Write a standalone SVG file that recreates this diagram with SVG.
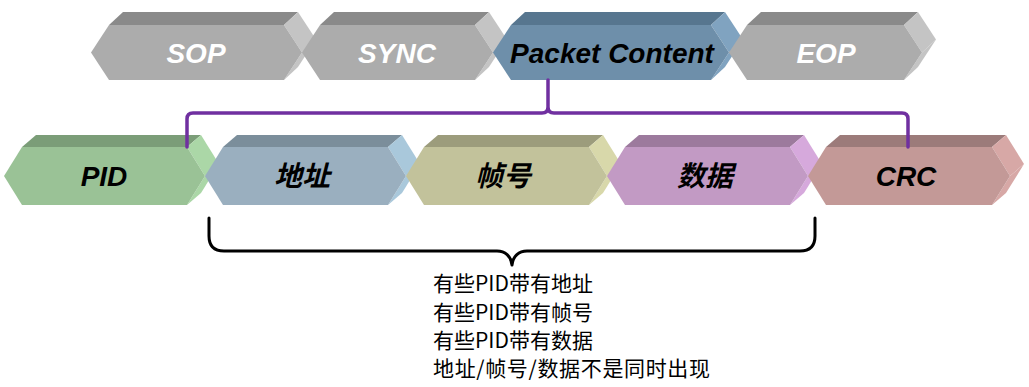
<svg xmlns="http://www.w3.org/2000/svg" width="1029" height="387" viewBox="0 0 1029 387">
<style>
.lbl{font-family:"Liberation Sans",Arial,sans-serif;font-weight:bold;font-style:italic;font-size:28px;text-anchor:middle}
.cjk{font-family:"Noto Sans CJK SC",sans-serif;font-weight:bold;font-style:italic;font-size:28px;text-anchor:middle}
.w{fill:#ffffff}
.b{fill:#000000}
.note{font-family:"Noto Sans CJK SC",sans-serif;font-size:21px;fill:#000000}
.grey .f{fill:#acacac}.grey .t{fill:#8a8a8a}.grey .s{fill:#c4c4c4}
.blue .f{fill:#6e8faa}.blue .t{fill:#57768f}.blue .s{fill:#80a3c0}
.green .f{fill:#9ac296}.green .t{fill:#7b9d78}.green .s{fill:#abd7a7}
.steel .f{fill:#9aafbf}.steel .t{fill:#7b8e9b}.steel .s{fill:#a9c8db}
.olive .f{fill:#c2c29b}.olive .t{fill:#9c9c7c}.olive .s{fill:#d8d8aa}
.mauve .f{fill:#c29ac4}.mauve .t{fill:#9c7a9d}.mauve .s{fill:#d6a9dc}
.rose .f{fill:#c39997}.rose .t{fill:#9c7b7a}.rose .s{fill:#d7a8a6}
.purple{fill:none;stroke:#7030a0;stroke-width:3.5;stroke-linecap:round;stroke-linejoin:round}
.brace{fill:none;stroke:#000000;stroke-width:3;stroke-linecap:round;stroke-linejoin:round}
</style>

<g id="node-sop" class="grey">
<polygon class="t" points="109,25 123,12 298,12 284,25"/>
<polygon class="s" points="284,25 298,12 316,39.5 302,52.5"/>
<polygon class="s" points="302,52.5 316,39.5 298,67 284,80"/>
<polygon class="f" points="91,52.5 109,25 284,25 302,52.5 284,80 109,80"/>
<text class="lbl w" x="196" y="63">SOP</text>
</g>
<g id="node-sync" class="grey">
<polygon class="t" points="320,25 334,12 489,12 475,25"/>
<polygon class="s" points="475,25 489,12 507,39.5 493,52.5"/>
<polygon class="s" points="493,52.5 507,39.5 489,67 475,80"/>
<polygon class="f" points="302,52.5 320,25 475,25 493,52.5 475,80 320,80"/>
<text class="lbl w" x="397" y="63">SYNC</text>
</g>
<g id="node-packet" class="blue">
<polygon class="t" points="511,25 525,12 725,12 711,25"/>
<polygon class="s" points="711,25 725,12 743,39.5 729,52.5"/>
<polygon class="s" points="729,52.5 743,39.5 725,67 711,80"/>
<polygon class="f" points="493,52.5 511,25 711,25 729,52.5 711,80 511,80"/>
<text class="lbl b" x="612" y="63">Packet Content</text>
</g>
<g id="node-eop" class="grey">
<polygon class="t" points="747,25 761,12 918,12 904,25"/>
<polygon class="s" points="904,25 918,12 936,39.5 922,52.5"/>
<polygon class="s" points="922,52.5 936,39.5 918,67 904,80"/>
<polygon class="f" points="729,52.5 747,25 904,25 922,52.5 904,80 747,80"/>
<text class="lbl w" x="826" y="63">EOP</text>
</g>

<g id="node-pid" class="green">
<polygon class="t" points="22,147 36,135 201,135 187,147"/>
<polygon class="s" points="187,147 201,135 219,164 205,176"/>
<polygon class="s" points="205,176 219,164 201,193 187,205"/>
<polygon class="f" points="4,176 22,147 187,147 205,176 187,205 22,205"/>
<text class="lbl b" x="104" y="186">PID</text>
</g>
<g id="node-addr" class="steel">
<polygon class="t" points="223,147 237,135 402,135 388,147"/>
<polygon class="s" points="388,147 402,135 420,164 406,176"/>
<polygon class="s" points="406,176 420,164 402,193 388,205"/>
<polygon class="f" points="205,176 223,147 388,147 406,176 388,205 223,205"/>
<text class="cjk b" x="302" y="186">地址</text>
</g>
<g id="node-frame" class="olive">
<polygon class="t" points="424,147 438,135 603,135 589,147"/>
<polygon class="s" points="589,147 603,135 621,164 607,176"/>
<polygon class="s" points="607,176 621,164 603,193 589,205"/>
<polygon class="f" points="406,176 424,147 589,147 607,176 589,205 424,205"/>
<text class="cjk b" x="503" y="186">帧号</text>
</g>
<g id="node-data" class="mauve">
<polygon class="t" points="625,147 639,135 804,135 790,147"/>
<polygon class="s" points="790,147 804,135 822,164 808,176"/>
<polygon class="s" points="808,176 822,164 804,193 790,205"/>
<polygon class="f" points="607,176 625,147 790,147 808,176 790,205 625,205"/>
<text class="cjk b" x="705" y="186">数据</text>
</g>
<g id="node-crc" class="rose">
<polygon class="t" points="826,147 840,135 1006,135 992,147"/>
<polygon class="s" points="992,147 1006,135 1024,164 1010,176"/>
<polygon class="s" points="1010,176 1024,164 1006,193 992,205"/>
<polygon class="f" points="808,176 826,147 992,147 1010,176 992,205 826,205"/>
<text class="lbl b" x="906" y="186">CRC</text>
</g>

<g id="connectors">
<path class="purple" d="M187,147 V119 Q187,113 193,113 H542 Q548,113 548,107 V80 M548,107 Q548,113 554,113 H902 Q908,113 908,119 V147"/>
<path class="brace" d="M209,218 V236 Q209,251 224,251 H497 C505,251 511,256 512,265 C513,256 519,251 527,251 H800 Q815,251 815,236 V218"/>
</g>

<g id="note">
<text class="note" x="433" y="291">有些PID带有地址</text>
<text class="note" x="433" y="319.5">有些PID带有帧号</text>
<text class="note" x="433" y="348">有些PID带有数据</text>
<text class="note" x="433" y="376" textLength="277" lengthAdjust="spacing">地址/帧号/数据不是同时出现</text>
</g>
</svg>
